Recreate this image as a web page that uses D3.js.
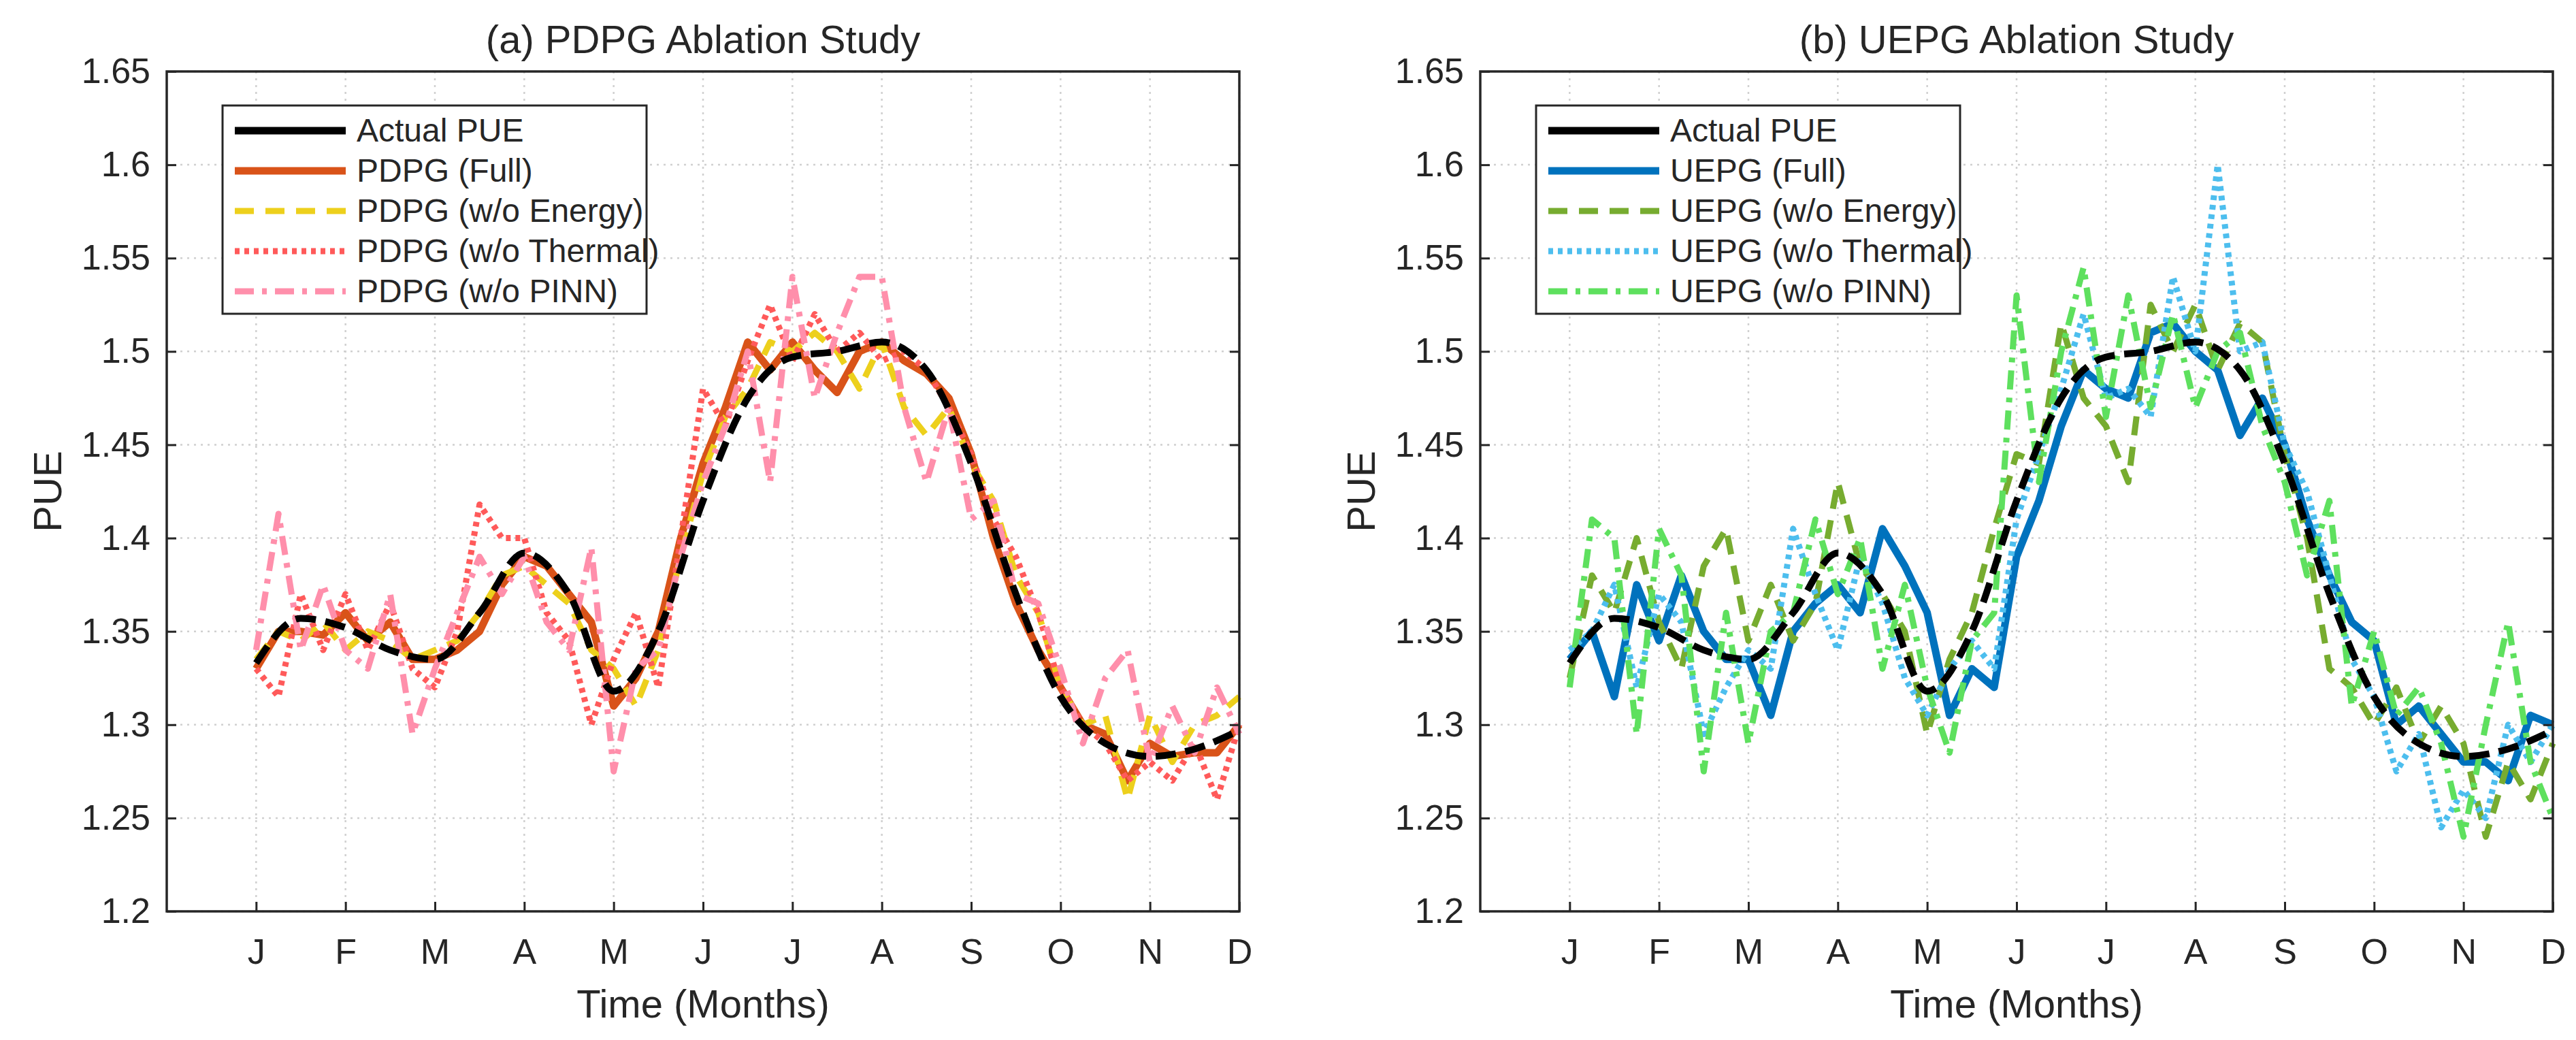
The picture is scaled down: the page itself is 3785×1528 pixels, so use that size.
<!DOCTYPE html>
<html><head><meta charset="utf-8">
<script src="https://cdn.jsdelivr.net/npm/d3@7"></script>
<style>body{margin:0;background:#fff}svg{display:block}text{font-family:"Liberation Sans Narrow","Liberation Sans",sans-serif;fill:#262626}</style>
</head><body><svg id="c" width="3785" height="1528"></svg>
<script>
const MONTHS = ["J","F","M","A","M","J","J","A","S","O","N","D"];
const Y_TICKS = [1.2,1.25,1.3,1.35,1.4,1.45,1.5,1.55,1.6,1.65];
// actual PUE, every half month
const ACTUAL = [1.333,1.357,1.352,1.340,1.335,1.360,1.392,1.370,1.318,1.350,1.420,1.475,1.497,1.500,1.505,1.490,1.440,1.370,1.315,1.290,1.283,1.287,1.297];
// model series, every quarter month
const PDPG_FULL = [1.33,1.35,1.35,1.348, 1.36,1.345,1.355,1.335, 1.335,1.34,1.35,1.375, 1.39,1.385,1.37,1.355, 1.31,1.325,1.35,1.40, 1.44,1.47,1.505,1.49, 1.505,1.49,1.478,1.50, 1.505,1.495,1.488,1.475, 1.445,1.40,1.365,1.34, 1.32,1.30,1.295,1.27, 1.29,1.283,1.285,1.285, 1.30];
const PDPG_ENERGY = [1.335,1.35,1.345,1.355, 1.34,1.35,1.345,1.335, 1.34,1.345,1.36,1.38, 1.385,1.375,1.365,1.34, 1.33,1.31,1.34,1.39, 1.435,1.465,1.48,1.505, 1.50,1.51,1.50,1.48, 1.505,1.47,1.455,1.47, 1.44,1.42,1.38,1.36, 1.32,1.30,1.305,1.26, 1.305,1.28,1.30,1.305, 1.315];
const PDPG_THERMAL = [1.33,1.315,1.37,1.34, 1.37,1.34,1.365,1.33, 1.32,1.35,1.418,1.40, 1.40,1.36,1.345,1.30, 1.335,1.36,1.32,1.40, 1.48,1.46,1.495,1.525, 1.495,1.52,1.50,1.51, 1.495,1.50,1.49,1.47, 1.445,1.41,1.39,1.36, 1.32,1.30,1.29,1.27, 1.28,1.27,1.29,1.26, 1.30];
const PDPG_PINN = [1.34,1.413,1.34,1.375, 1.34,1.33,1.37,1.295, 1.33,1.36,1.39,1.37, 1.39,1.355,1.34,1.395, 1.275,1.33,1.34,1.39, 1.43,1.46,1.50,1.43, 1.54,1.475,1.51,1.54, 1.54,1.47,1.43,1.47, 1.41,1.42,1.37,1.365, 1.33,1.29,1.325,1.34, 1.28,1.31,1.285,1.32, 1.295];
const UEPG_FULL = [1.335,1.35,1.315,1.375, 1.345,1.38,1.35,1.335, 1.335,1.305,1.35,1.365, 1.375,1.36,1.405,1.385, 1.36,1.305,1.33,1.32, 1.39,1.42,1.46,1.49, 1.48,1.475,1.51,1.515, 1.50,1.49,1.455,1.475, 1.45,1.41,1.38,1.355, 1.345,1.30,1.31,1.295, 1.28,1.28,1.27,1.305, 1.30];
const UEPG_ENERGY = [1.325,1.38,1.36,1.40, 1.355,1.33,1.385,1.405, 1.345,1.375,1.345,1.365, 1.43,1.385,1.37,1.35, 1.295,1.335,1.36,1.405, 1.445,1.44,1.515,1.475, 1.46,1.43,1.525,1.50, 1.525,1.49,1.515,1.505, 1.445,1.40,1.33,1.32, 1.30,1.32,1.29,1.31, 1.29,1.24,1.28,1.26, 1.29];
const UEPG_THERMAL = [1.34,1.35,1.375,1.32, 1.37,1.355,1.295,1.32, 1.34,1.33,1.405,1.37, 1.34,1.39,1.365,1.325, 1.305,1.33,1.345,1.33, 1.41,1.445,1.48,1.52, 1.475,1.48,1.465,1.54, 1.50,1.60,1.50,1.505, 1.45,1.425,1.38,1.335, 1.315,1.275,1.295,1.245, 1.265,1.25,1.30,1.28, 1.30];
const UEPG_PINN = [1.32,1.41,1.40,1.295, 1.405,1.38,1.275,1.36, 1.29,1.35,1.36,1.41, 1.37,1.40,1.33,1.375, 1.32,1.285,1.345,1.36, 1.53,1.43,1.50,1.545, 1.465,1.53,1.47,1.52, 1.47,1.50,1.51,1.46, 1.43,1.38,1.42,1.31, 1.35,1.305,1.32,1.29, 1.24,1.30,1.355,1.28, 1.25];

const svg = d3.select("#c");
const STYLES = {
  actual: {w:11, dash:null},
  full: {w:11, dash:null},
  energy: {w:9, dash:"28,17"},
  thermal: {w:9, dash:"7,7"},
  pinn: {w:9, dash:"28,12,7,12"}
};

function panel(left, title, series) {
  const top = 105, bottom = 1339, right = left + 1576;
  const x = d3.scaleLinear().domain([-1, 11]).range([left, right]);
  const y = d3.scaleLinear().domain([1.2, 1.65]).range([bottom, top]);
  const g = svg.append("g");

  // grid
  g.selectAll(".gx").data(d3.range(12)).join("line")
    .attr("x1", d => x(d)).attr("x2", d => x(d)).attr("y1", top).attr("y2", bottom)
    .attr("stroke", "#d0d0d0").attr("stroke-width", 2.5).attr("stroke-dasharray", "3,7");
  g.selectAll(".gy").data(Y_TICKS).join("line")
    .attr("x1", left).attr("x2", right).attr("y1", d => y(d)).attr("y2", d => y(d))
    .attr("stroke", "#d0d0d0").attr("stroke-width", 2.5).attr("stroke-dasharray", "3,7");

  // model lines (actual drawn last, dashed over the others)
  const line = d3.line().x(d => x(d[0])).y(d => y(d[1]));
  series.slice(1).forEach(s => {
    const pts = s.data.map((v, i) => [i * s.step, v]);
    g.append("path").attr("d", line.curve(d3.curveLinear)(pts))
      .attr("fill", "none").attr("stroke", s.color).attr("stroke-width", s.w)
      .attr("stroke-dasharray", s.dash).attr("stroke-linejoin", "round");
  });
  const act = series[0];
  g.append("path").attr("d", line.curve(d3.curveMonotoneX)(act.data.map((v, i) => [i * act.step, v])))
    .attr("fill", "none").attr("stroke", "#000").attr("stroke-width", 10).attr("stroke-dasharray", "30,14");

  // axes
  const ax = g.append("g").attr("transform", `translate(0,${bottom})`)
    .call(d3.axisBottom(x).tickValues(d3.range(12)).tickFormat(i => MONTHS[i]).tickSize(-14).tickPadding(40));
  const ay = g.append("g").attr("transform", `translate(${left},0)`)
    .call(d3.axisLeft(y).tickValues(Y_TICKS).tickFormat(d3.format("")).tickSize(-14).tickPadding(24));
  [ax, ay].forEach(a => {
    a.select(".domain").remove();
    a.selectAll(".tick line").attr("stroke", "#262626").attr("stroke-width", 3);
    a.selectAll(".tick text").style("font-size", "52px").attr("fill", "#262626");
  });
  ay.append("g").attr("transform", `translate(${right - left},0)`)
    .call(d3.axisRight(y).tickValues(Y_TICKS).tickFormat("").tickSize(-14))
    .call(a => { a.select(".domain").remove(); a.selectAll("line").attr("stroke", "#262626").attr("stroke-width", 3); });
  g.append("rect").attr("x", left).attr("y", top).attr("width", right - left).attr("height", bottom - top)
    .attr("fill", "none").attr("stroke", "#262626").attr("stroke-width", 3.5);

  g.append("text").attr("x", (left + right) / 2).attr("y", 78).attr("text-anchor", "middle")
    .style("font-size", "58px").text(title);
  g.append("text").attr("x", (left + right) / 2).attr("y", 1495).attr("text-anchor", "middle")
    .style("font-size", "58px").text("Time (Months)");
  g.append("text").attr("transform", `translate(${left - 155},${(top + bottom) / 2}) rotate(-90)`)
    .attr("text-anchor", "middle").style("font-size", "58px").text("PUE");

  // legend
  const lx = left + 82, ly = top + 50;
  const lg = g.append("g");
  lg.append("rect").attr("x", lx).attr("y", ly).attr("width", 623).attr("height", 306)
    .attr("fill", "#fff").attr("stroke", "#262626").attr("stroke-width", 3);
  series.forEach((s, i) => {
    const yy = ly + 37 + i * 59;
    lg.append("line").attr("x1", lx + 18).attr("x2", lx + 181).attr("y1", yy).attr("y2", yy)
      .attr("stroke", s.color).attr("stroke-width", s.w).attr("stroke-dasharray", s.dash);
    lg.append("text").attr("x", lx + 197).attr("y", yy + 16).style("font-size", "48px").text(s.name);
  });
}

function mk(names, colors, data) {
  const keys = ["actual", "full", "energy", "thermal", "pinn"];
  return keys.map((k, i) => ({
    name: names[i], color: colors[i], w: STYLES[k].w, dash: STYLES[k].dash,
    data: data[i], step: i === 0 ? 0.5 : 0.25
  }));
}

panel(245, "(a) PDPG Ablation Study", mk(
  ["Actual PUE", "PDPG (Full)", "PDPG (w/o Energy)", "PDPG (w/o Thermal)", "PDPG (w/o PINN)"],
  ["#000", "#D95319", "#EDD01C", "#FF5A5A", "#FF8FAB"],
  [ACTUAL, PDPG_FULL, PDPG_ENERGY, PDPG_THERMAL, PDPG_PINN]));
panel(2175, "(b) UEPG Ablation Study", mk(
  ["Actual PUE", "UEPG (Full)", "UEPG (w/o Energy)", "UEPG (w/o Thermal)", "UEPG (w/o PINN)"],
  ["#000", "#0072BD", "#77AC30", "#4DBEEE", "#5EE05E"],
  [ACTUAL, UEPG_FULL, UEPG_ENERGY, UEPG_THERMAL, UEPG_PINN]));
</script></body></html>
